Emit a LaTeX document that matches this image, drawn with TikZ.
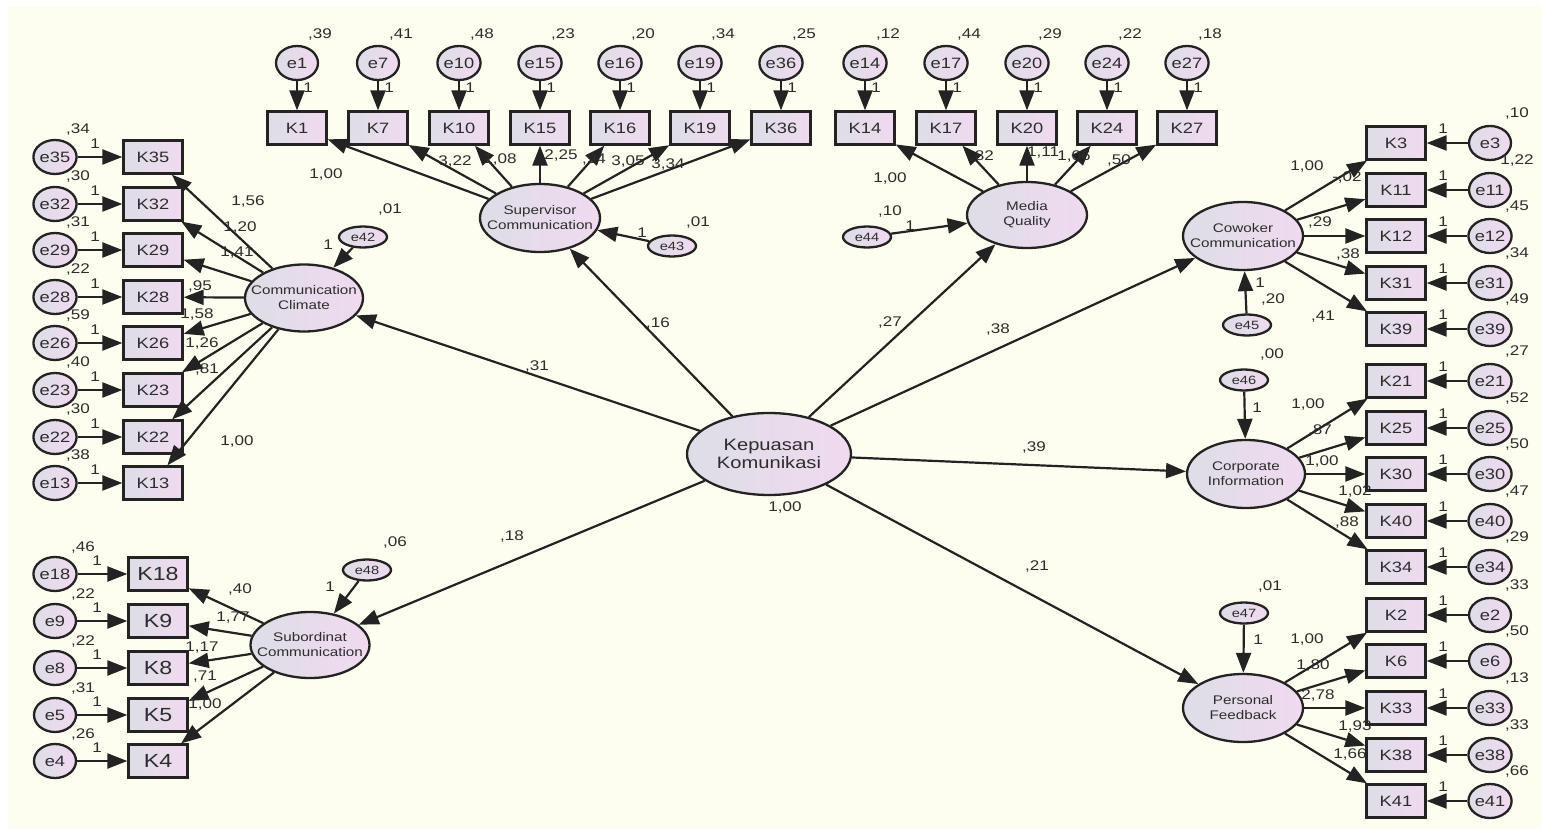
\documentclass[tikz,border=0pt]{standalone}
\usepackage{fontspec}
\setmainfont{Liberation Sans}[FakeStretch=1.22]
\usetikzlibrary{arrows.meta,shapes.geometric}
\definecolor{bg}{RGB}{254,254,240}
\definecolor{ln}{RGB}{35,35,35}
\definecolor{tx}{RGB}{45,45,45}
\definecolor{fl}{RGB}{222,221,230}
\definecolor{fr}{RGB}{240,218,240}
\begin{document}
\begin{tikzpicture}[x=1pt,y=-1pt,
  shp/.style={draw=ln,line width=2.3pt,left color=fl,right color=fr,inner sep=0pt,text=tx},
  ind/.style={shp,rectangle,minimum width=59pt,minimum height=33pt,font=\fontsize{15}{17}\selectfont},
  indb/.style={ind,font=\fontsize{19}{21}\selectfont},
  err/.style={shp,ellipse,minimum width=42pt,minimum height=34pt,font=\fontsize{15}{17}\selectfont},
  serr/.style={shp,ellipse,minimum width=48pt,minimum height=21pt,font=\fontsize{12}{14}\selectfont},
  latxt/.style={align=center,text=tx,inner sep=0pt,font=\fontsize{12.5}{15}\selectfont},
  lat/.style={shp,ellipse,minimum width=120pt,minimum height=68pt,label={[latxt]center:#1}},
  kepxt/.style={align=center,text=tx,inner sep=0pt,font=\fontsize{16.5}{18}\selectfont},
  arr/.style={draw=ln,line width=2.2pt,-{Triangle[length=20pt,width=15pt]}},
  lb/.style={text=tx,inner sep=0pt,font=\fontsize{14}{16}\selectfont}
]
\fill[white] (0,0) rectangle (1542,829);
\fill[bg] (8,7) rectangle (1542,829);
\useasboundingbox (0,0) rectangle (1542,829);

% latent variables
\node[shp,ellipse,minimum width=164pt,minimum height=82pt,label={[kepxt]center:Kepuasan\\Komunikasi}] (kep) at (769,454) {};
\node[lat={Supervisor\\Communication}] (sup) at (540,218) {};
\node[lat={Media\\Quality},minimum height=66pt] (med) at (1027,215) {};
\node[lat={Cowoker\\Communication}] (cow) at (1243,236) {};
\node[lat={Corporate\\Information},minimum width=118pt] (cor) at (1246,474) {};
\node[lat={Personal\\Feedback}] (per) at (1243,708) {};
\node[lat={Communication\\Climate},minimum width=118pt,minimum height=67pt] (cli) at (304,298) {};
\node[lat={Subordinat\\Communication},minimum width=119pt,minimum height=66pt] (sub) at (310,645) {};

% disturbance terms
\node[serr] (e42) at (363,237) {e42};
\node[serr] (e43) at (672,246) {e43};
\node[serr] (e44) at (867,237) {e44};
\node[serr] (e45) at (1247,325) {e45};
\node[serr] (e46) at (1244,380) {e46};
\node[serr] (e47) at (1244,613) {e47};
\node[serr] (e48) at (367,570) {e48};
\draw[arr] (e42) -- (cli);
\draw[arr] (e43) -- (sup);
\draw[arr] (e44) -- (med);
\draw[arr] (e45) -- (cow);
\draw[arr] (e46) -- (cor);
\draw[arr] (e47) -- (per);
\draw[arr] (e48) -- (sub);

% structural paths
\foreach \t in {cli,sup,med,cow,cor,per,sub}{\draw[arr] (kep) -- (\t);}

% top row: supervisor
\foreach \x/\n/\v in {297/1/39,378/7/41,459/10/48,540/15/23,620/16/20,700/19/34,781/36/25}{
  \node[err] (e\n) at (\x,63) {e\n};
  \node[ind] (K\n) at (\x,128) {K\n};
  \draw[arr] (e\n) -- (K\n);
  \draw[arr] (sup) -- (K\n);
  \node[lb] (v\n) at (\x+23,35) {,\v};
  \node[lb] (o\n) at (\x+11,88) {1};
}
% top row: media
\foreach \x/\n/\v in {865/14/12,946/17/44,1027/20/29,1107/24/22,1187/27/18}{
  \node[err] (e\n) at (\x,63) {e\n};
  \node[ind] (K\n) at (\x,128) {K\n};
  \draw[arr] (e\n) -- (K\n);
  \draw[arr] (med) -- (K\n);
  \node[lb] (v\n) at (\x+23,35) {,\v};
  \node[lb] (o\n) at (\x+11,88) {1};
}
% left: communication climate
\foreach \y/\n/\v in {157/35/34,204/32/30,250/29/31,297/28/22,343/26/59,390/23/40,437/22/30,483/13/38}{
  \node[err] (e\n) at (55,\y) {e\n};
  \node[ind] (K\n) at (153,\y) {K\n};
  \draw[arr] (e\n) -- (K\n);
  \draw[arr] (cli) -- (K\n);
  \node[lb] (v\n) at (78,\y-27) {,\v};
  \node[lb] (o\n) at (95,\y-13) {1};
}
% left: subordinat
\foreach \y/\n/\v in {574/18/46,621/9/22,668/8/22,715/5/31,761/4/26}{
  \node[err] (e\n) at (55,\y) {e\n};
  \node[indb] (K\n) at (158,\y) {K\n};
  \draw[arr] (e\n) -- (K\n);
  \draw[arr] (sub) -- (K\n);
  \node[lb] (v\n) at (83,\y-26) {,\v};
  \node[lb] (o\n) at (97,\y-13) {1};
}
% right groups
\foreach \y/\n/\v/\f in {143/3/{,10}/cow,190/11/{1,22}/cow,236/12/{,45}/cow,283/31/{,34}/cow,329/39/{,49}/cow,
  381/21/{,27}/cor,428/25/{,52}/cor,474/30/{,50}/cor,521/40/{,47}/cor,567/34/{,29}/cor,
  615/2/{,33}/per,661/6/{,50}/per,708/33/{,13}/per,755/38/{,33}/per,801/41/{,66}/per}{
  \node[err] (e\n) at (1490,\y) {e\n};
  \node[ind] (K\n) at (1396,\y) {K\n};
  \draw[arr] (e\n) -- (K\n);
  \draw[arr] (\f) -- (K\n);
  \node[lb] (v\n) at (1517,\y-29) {\v};
  \node[lb] (o\n) at (1443,\y-14) {1};
}

% loading and path labels
\foreach \x/\y/\t [count=\i] in {
  326/175/{1,00},455/162/{3,22},500/160/{1,08},561/156/{2,25},594/160/{,94},628/162/{3,05},668/165/{3,34},
  890/179/{1,00},982/157/{,82},1043/153/{1,11},1074/157/{1,06},1119/161/{,50},
  248/202/{1,56},240/228/{1,20},237/253/{1,41},200/287/{,95},197/315/{1,58},202/344/{1,26},207/370/{,81},237/442/{1,00},
  240/590/{,40},233/618/{1,77},202/648/{1,17},205/677/{,71},205/705/{1,00},
  1307/167/{1,00},1347/178/{-,02},1320/223/{,29},1348/255/{,38},1323/317/{,41},
  1308/405/{1,00},1320/431/{,87},1322/462/{1,00},1355/492/{1,02},1347/523/{,88},
  1307/640/{1,00},1313/666/{1,80},1318/696/{2,78},1355/727/{1,93},1350/755/{1,66},
  537/367/{,31},658/324/{,16},890/323/{,27},998/330/{,38},1034/448/{,39},512/537/{,18},1037/567/{,21},785/508/{1,00},
  390/210/{,01},328/245/{1},698/223/{,01},642/233/{1},890/212/{,10},910/226/{1},
  1273/300/{,20},1260/283/{1},1272/355/{,00},1257/408/{1},1270/587/{,01},1258/640/{1},395/543/{,06},330/587/{1}}{
  \node[lb] (L\i) at (\x,\y) {\t};
}
\end{tikzpicture}
\end{document}
